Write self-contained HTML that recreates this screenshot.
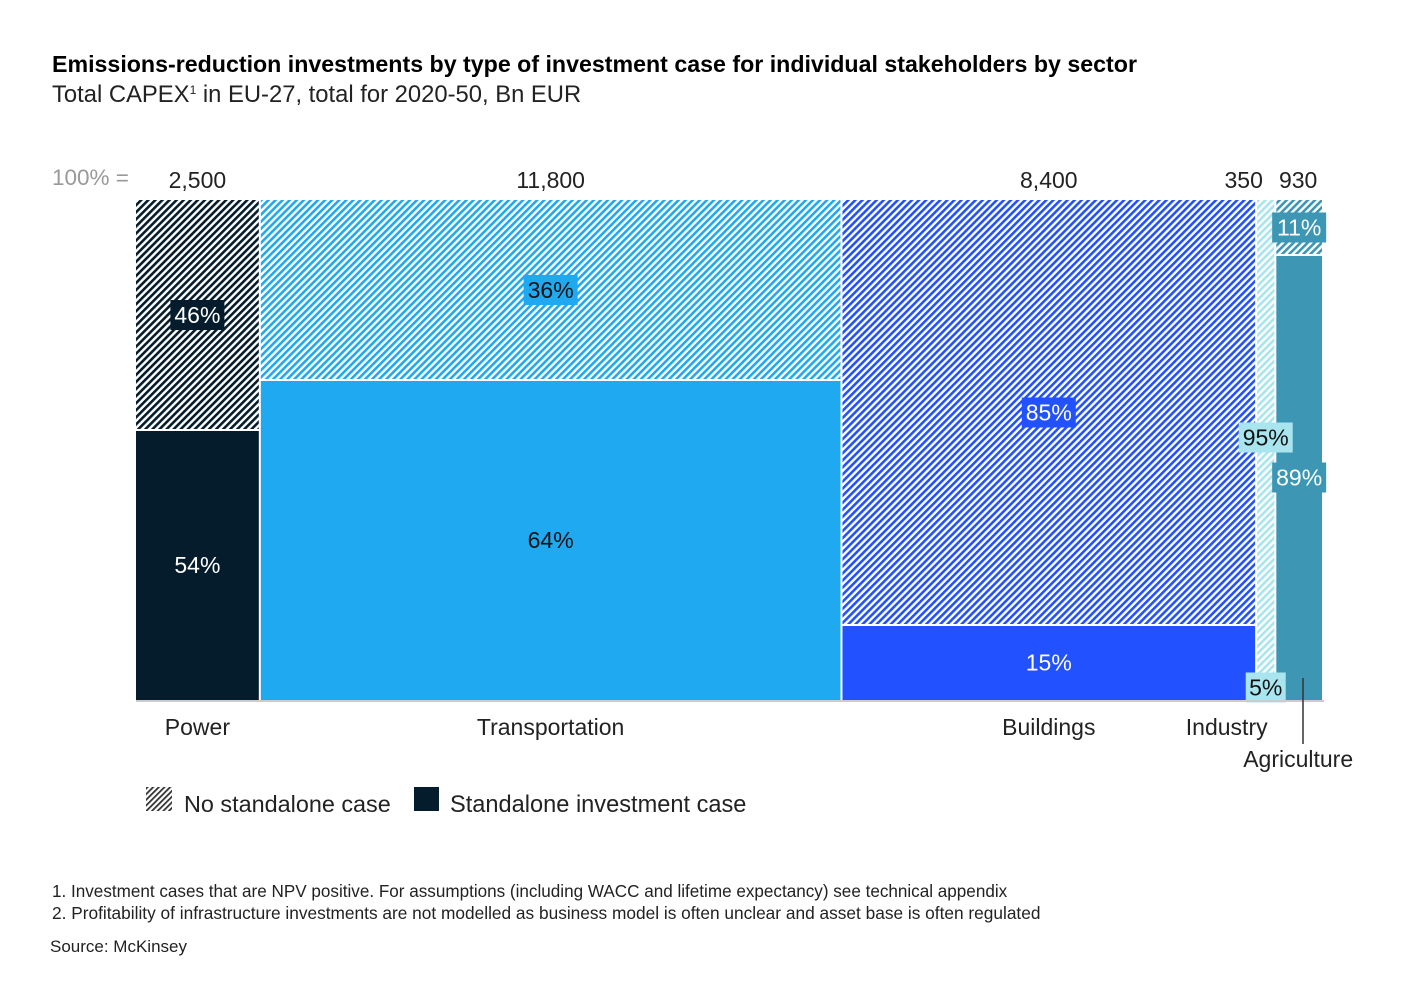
<!DOCTYPE html>
<html><head><meta charset="utf-8"><style>
body{margin:0;background:#fff;font-family:"Liberation Sans",sans-serif;}
svg text{font-family:"Liberation Sans",sans-serif;}
</style></head><body>
<svg id="c" width="1410" height="996" viewBox="0 0 1410 996" xmlns="http://www.w3.org/2000/svg">
<defs>
<pattern id="h-power" width="5" height="5" patternUnits="userSpaceOnUse" patternTransform="rotate(45)"><rect width="5" height="5" fill="#fff"/><rect width="2.6" height="5" fill="#051c2c"/></pattern>
<pattern id="h-transport" width="5" height="5" patternUnits="userSpaceOnUse" patternTransform="rotate(45)"><rect width="5" height="5" fill="#fff"/><rect width="2.6" height="5" fill="#1fa9f0"/></pattern>
<pattern id="h-buildings" width="5" height="5" patternUnits="userSpaceOnUse" patternTransform="rotate(45)"><rect width="5" height="5" fill="#fff"/><rect width="2.6" height="5" fill="#2251ff"/></pattern>
<pattern id="h-industry" width="5" height="5" patternUnits="userSpaceOnUse" patternTransform="rotate(45)"><rect width="5" height="5" fill="#fff"/><rect width="2.6" height="5" fill="#a8e5ef"/></pattern>
<pattern id="h-agri" width="5" height="5" patternUnits="userSpaceOnUse" patternTransform="rotate(45)"><rect width="5" height="5" fill="#fff"/><rect width="2.6" height="5" fill="#3c96b4"/></pattern>
<pattern id="h-legend" width="4" height="4" patternUnits="userSpaceOnUse" patternTransform="rotate(45)"><rect width="4" height="4" fill="#fff"/><rect width="1.8" height="4" fill="#333"/></pattern>
</defs>
<text x="52" y="72" font-size="23.2" font-weight="bold" fill="#000">Emissions-reduction investments by type of investment case for individual stakeholders by sector</text>
<text x="52" y="102" font-size="23.8" fill="#222">Total CAPEX<tspan font-size="12" dy="-8">1</tspan><tspan dy="8"> in EU-27, total for 2020-50, Bn EUR</tspan></text>
<text x="52" y="185" font-size="22.5" fill="#999">100% =</text>
<g id="bars"></g>
<g id="labels"></g>
<line x1="136" y1="701" x2="1324" y2="701" stroke="#ccc" stroke-width="2"/>
<line x1="1303" y1="678" x2="1303" y2="744" stroke="#333" stroke-width="1.5"/>
<g>
<rect x="146" y="787" width="26" height="24" fill="url(#h-legend)"/>
<text x="184" y="812" font-size="23.4" fill="#222">No standalone case</text>
<rect x="414" y="787" width="25" height="24" fill="#051c2c"/>
<text x="450" y="812" font-size="23.6" fill="#222">Standalone investment case</text>
</g>
<text x="52" y="897" font-size="17.1" fill="#222">1. Investment cases that are NPV positive. For assumptions (including WACC and lifetime expectancy) see technical appendix</text>
<text x="52" y="919" font-size="17.3" fill="#222">2. Profitability of infrastructure investments are not modelled as business model is often unclear and asset base is often regulated</text>
<text x="50" y="952" font-size="17" fill="#222">Source: McKinsey</text>
</svg>
<script>
const categories = ["Power","Transportation","Buildings","Industry","Agriculture"];
const totals = [2500, 11800, 8400, 350, 930];
const totalLabels = ["2,500","11,800","8,400","350","930"];
const noStandalonePct = [46, 36, 85, 95, 11];
const standalonePct = [54, 64, 15, 5, 89];
const colors = ["#051c2c","#1fa9f0","#2251ff","#a8e5ef","#3c96b4"];
const hatchIds = ["h-power","h-transport","h-buildings","h-industry","h-agri"];
const solidBoxed = [false,false,false,true,true];
const textColor = ["#fff","#111","#fff","#111","#fff"];

const NS="http://www.w3.org/2000/svg";
const gb=document.getElementById('bars');
const gl=document.getElementById('labels');
const X0=136, X1=1322, GAP=2, Y0=200, Y1=700;
const sum=totals.reduce((a,b)=>a+b,0);
const avail=(X1-X0)-GAP*(totals.length-1);
const xw=v=>v/sum*avail;
const yOf=p=>Y0+p/100*(Y1-Y0);
function mk(g,t,attrs){const e=document.createElementNS(NS,t);for(const k in attrs)e.setAttribute(k,attrs[k]);g.appendChild(e);return e;}
function label(txt,cx,cy,boxed,bg,fg,name){
  if(boxed){
    const w=txt.length*14+12;
    const r=mk(gl,'rect',{x:cx-w/2,y:cy-15,width:w,height:30,fill:bg});
    
    
  }
  const t=mk(gl,'text',{x:cx,y:cy+8,'font-size':23,'text-anchor':'middle',fill:fg});
  t.textContent=txt;
  
  
}
let x=X0;
categories.forEach((c,i)=>{
  const w=xw(totals[i]);
  const key=c.toLowerCase();
  const ySplit=yOf(noStandalonePct[i]);
  const r1=mk(gb,'rect',{x:x,y:Y0,width:w,height:ySplit-Y0-1,fill:'url(#'+hatchIds[i]+')'});
  
  
  const r2=mk(gb,'rect',{x:x,y:ySplit+1,width:w,height:Y1-ySplit-1,fill:colors[i]});
  
  
  const cx=x+w/2;
  label(noStandalonePct[i]+'%',cx,(Y0+ySplit)/2,true,colors[i],textColor[i],'label-'+key+'-no-standalone');
  label(standalonePct[i]+'%',cx,(ySplit+Y1)/2,solidBoxed[i],colors[i],textColor[i],'label-'+key+'-standalone');
  const tt=mk(gl,'text',{x:i===3?cx-22:(i===4?cx-1:cx),y:188,'font-size':23,'text-anchor':'middle',fill:'#222'});
  tt.textContent=totalLabels[i];
  
  
  const cl=mk(gl,'text',{x:i===3?cx-39:(i===4?cx-1:cx),y:i===4?767:735,'font-size':23,'text-anchor':'middle',fill:'#222'});
  cl.textContent=c;
  
  
  x+=w+GAP;
});
</script>
</body></html>
